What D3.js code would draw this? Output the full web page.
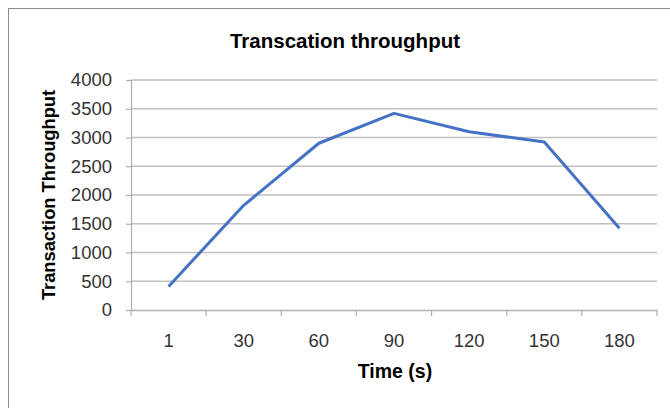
<!DOCTYPE html>
<html>
<head>
<meta charset="utf-8">
<script src="https://cdn.jsdelivr.net/npm/d3@7"></script>
<style>
  html, body { margin: 0; padding: 0; background: #fff; }
  svg { display: block; }
  text { font-family: "Liberation Sans", "DejaVu Sans", sans-serif; fill: #262626; }
</style>
</head>
<body>
<script>
// Throughput samples over time
const times = ["1", "30", "60", "90", "120", "150", "180"];
const throughput = [410, 1820, 2900, 3420, 3100, 2920, 1420];
const yTicks = [0, 500, 1000, 1500, 2000, 2500, 3000, 3500, 4000];

const W = 670, H = 408;
const plot = { left: 131, right: 657, top: 80, bottom: 310 };

const svg = d3.select("body").append("svg").attr("width", W).attr("height", H);

// Outer chart frame
svg.append("rect")
  .attr("x", 8.5).attr("y", 8.5)
  .attr("width", W + 10).attr("height", H + 10)
  .attr("fill", "none").attr("stroke", "#8c8c8c").attr("stroke-width", 1);

const x = d3.scaleBand().domain(times).range([plot.left, plot.right]);
const y = d3.scaleLinear().domain([0, 4000]).range([plot.bottom, plot.top]);

// Horizontal gridlines
svg.append("g").selectAll("line")
  .data(yTicks.filter(d => d > 0))
  .join("line")
  .attr("x1", plot.left).attr("x2", plot.right)
  .attr("y1", d => y(d)).attr("y2", d => y(d))
  .attr("stroke", "#c0c0c0").attr("stroke-width", 1.5);

// Y axis
const yAxis = svg.append("g")
  .attr("transform", `translate(${plot.left},0)`)
  .call(d3.axisLeft(y).tickValues(yTicks).tickSize(5).tickPadding(14).tickFormat(d3.format("d")));
yAxis.select(".domain").attr("stroke", "#b0b0b0").attr("stroke-width", 1.2);
yAxis.selectAll(".tick line").attr("stroke", "#b0b0b0").attr("stroke-width", 1.2);
yAxis.selectAll("text").attr("font-size", 18.5).style("fill", "#333");

// X axis with ticks on band boundaries
const xAxis = svg.append("g")
  .attr("transform", `translate(0,${plot.bottom})`)
  .call(d3.axisBottom(x).tickSize(0).tickPadding(24));
xAxis.select(".domain").attr("stroke", "#b0b0b0").attr("stroke-width", 1.5);
xAxis.selectAll("text").attr("font-size", 18.5).style("fill", "#333");
xAxis.append("g").selectAll("line")
  .data(times.map(t => x(t)).concat([plot.right]))
  .join("line")
  .attr("x1", d => d).attr("x2", d => d)
  .attr("y1", 0).attr("y2", 6)
  .attr("stroke", "#b0b0b0").attr("stroke-width", 1.2);

// Throughput line
const line = d3.line()
  .x((d, i) => x(times[i]) + x.bandwidth() / 2)
  .y(d => y(d));
svg.append("path")
  .datum(throughput)
  .attr("d", line)
  .attr("fill", "none")
  .attr("stroke", "#4472c4")
  .attr("stroke-width", 3)
  .attr("stroke-linejoin", "round");

// Titles
svg.append("text")
  .attr("x", 345).attr("y", 48)
  .attr("text-anchor", "middle")
  .attr("font-size", 20.5).attr("font-weight", "bold")
  .style("fill", "#000")
  .text("Transcation throughput");

svg.append("text")
  .attr("x", 395).attr("y", 378)
  .attr("text-anchor", "middle")
  .attr("font-size", 19.5).attr("font-weight", "bold")
  .style("fill", "#000")
  .text("Time (s)");

svg.append("text")
  .attr("transform", "translate(55,195) rotate(-90)")
  .attr("text-anchor", "middle")
  .attr("font-size", 18.3).attr("font-weight", "bold")
  .style("fill", "#000")
  .text("Transaction Throughput");
</script>
</body>
</html>
